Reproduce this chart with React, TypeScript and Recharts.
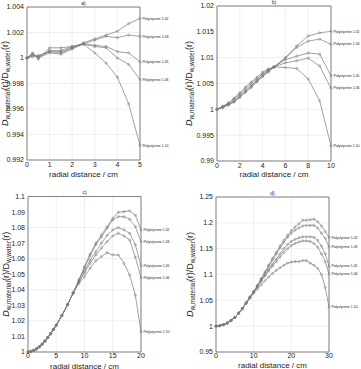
import { LineChart, Line, XAxis, YAxis, CartesianGrid, ReferenceArea } from 'recharts'

const NAMES = ['Polystyrene 1.02', 'Polystyrene 1.03', 'Polystyrene 1.05', 'Polystyrene 1.06', 'Polystyrene 1.10']

// a) 0-5 cm
const xsA = [0, 0.25, 0.5, 1, 1.5, 2, 2.5, 3, 3.5, 4, 4.5, 5]
const a102 = [1.0, 1.0003, 1.0001, 1.0005, 1.0004, 1.0008, 1.0012, 1.0015, 1.0018, 1.0021, 1.0027, 1.0031]
const a103 = [1.0, 1.0004, 0.9999, 1.0008, 1.0008, 1.0009, 1.0011, 1.0014, 1.0017, 1.0016, 1.0018, 1.0017]
const a105 = [1.0, 1.0002, 1.0001, 1.0006, 1.0005, 1.0008, 1.0011, 1.001, 1.0009, 1.0005, 1.0004, 0.9997]
const a106 = [1.0, 1.0003, 1.0, 1.0004, 1.0003, 1.0007, 1.0011, 1.0009, 1.0008, 1.0, 0.9995, 0.9983]
const a110 = [1.0, 1.0001, 1.0002, 1.0005, 1.0006, 1.0009, 1.0011, 1.0004, 0.9996, 0.9985, 0.9964, 0.99315]

// b) 0-10 cm
const xsB = [0, 0.5, 1, 1.5, 2, 2.5, 3, 3.5, 4, 4.5, 5, 6, 7, 8, 9, 10]
const b102 = [1.0, 1.0004, 1.0009, 1.0015, 1.0025, 1.0034, 1.0044, 1.0055, 1.0065, 1.0074, 1.0082, 1.01, 1.0123, 1.0142, 1.0148, 1.0151]
const b103 = [1.0, 1.0005, 1.001, 1.0017, 1.0027, 1.0036, 1.0046, 1.0056, 1.0066, 1.0075, 1.0082, 1.0099, 1.012, 1.0132, 1.0136, 1.0126]
const b105 = [1.0, 1.0006, 1.0012, 1.002, 1.003, 1.004, 1.005, 1.0059, 1.0069, 1.0077, 1.0082, 1.0096, 1.0103, 1.0109, 1.0107, 1.0065]
const b106 = [1.0, 1.0003, 1.0008, 1.0014, 1.0023, 1.0033, 1.0042, 1.0053, 1.0063, 1.0072, 1.0082, 1.009, 1.0094, 1.0099, 1.0084, 1.0041]
const b110 = [1.0, 1.0005, 1.0012, 1.0022, 1.0032, 1.0043, 1.0053, 1.0062, 1.0072, 1.0078, 1.0082, 1.0081, 1.0079, 1.0059, 1.0017, 0.9929]

// c) 0-20 cm
const xsC = [0, 0.5, 1, 1.5, 2, 2.5, 3, 3.5, 4, 4.5, 5, 6, 7, 8, 9, 10, 11, 12, 13, 14, 15, 16, 17, 18, 19, 20]
const c102 = [1.0, 1.0004, 1.001, 1.002, 1.0033, 1.005, 1.007, 1.0093, 1.0118, 1.0145, 1.0172, 1.0235, 1.0305, 1.038, 1.0465, 1.055, 1.063, 1.07, 1.0753, 1.0806, 1.086, 1.0899, 1.0903, 1.0908, 1.088, 1.0785]
const c103 = [1.0, 1.0004, 1.001, 1.002, 1.0033, 1.005, 1.007, 1.0093, 1.0118, 1.0145, 1.0172, 1.0235, 1.0305, 1.038, 1.046, 1.054, 1.062, 1.069, 1.074, 1.0796, 1.085, 1.087, 1.087, 1.0854, 1.0806, 1.071]
const c105 = [1.0, 1.0004, 1.001, 1.002, 1.0033, 1.005, 1.007, 1.0093, 1.0118, 1.0145, 1.0172, 1.0235, 1.0305, 1.038, 1.045, 1.052, 1.059, 1.0645, 1.07, 1.075, 1.0785, 1.08, 1.0785, 1.0763, 1.069, 1.0553]
const c106 = [1.0, 1.0004, 1.001, 1.002, 1.0033, 1.005, 1.007, 1.0093, 1.0118, 1.0145, 1.0172, 1.0235, 1.0305, 1.038, 1.045, 1.051, 1.057, 1.0624, 1.0667, 1.071, 1.0746, 1.0763, 1.0746, 1.072, 1.061, 1.0477]
const c110 = [1.0, 1.0004, 1.001, 1.002, 1.0033, 1.005, 1.007, 1.0093, 1.0118, 1.0145, 1.0172, 1.0235, 1.0305, 1.038, 1.044, 1.0484, 1.0538, 1.0587, 1.0613, 1.0639, 1.0624, 1.0624, 1.057, 1.0495, 1.0366, 1.0129]

// d) 0-30 cm
const xsD = [0, 1, 2, 3, 4, 5, 6, 7, 8, 9, 10, 11, 12, 13, 14, 15, 16, 17, 18, 19, 20, 21, 22, 23, 24, 25, 26, 27, 28, 29, 30]
const d102 = [1.0, 1.001, 1.003, 1.006, 1.011, 1.017, 1.025, 1.034, 1.045, 1.056, 1.067, 1.079, 1.092, 1.105, 1.118, 1.131, 1.143, 1.155, 1.166, 1.176, 1.185, 1.192, 1.198, 1.205, 1.205, 1.206, 1.207, 1.202, 1.194, 1.183, 1.172]
const d103 = [1.0, 1.001, 1.003, 1.006, 1.011, 1.017, 1.025, 1.034, 1.045, 1.056, 1.067, 1.078, 1.091, 1.103, 1.116, 1.128, 1.14, 1.151, 1.162, 1.172, 1.18, 1.186, 1.19, 1.194, 1.195, 1.195, 1.195, 1.19, 1.18, 1.17, 1.153]
const d105 = [1.0, 1.001, 1.003, 1.006, 1.011, 1.017, 1.025, 1.034, 1.045, 1.056, 1.066, 1.077, 1.088, 1.099, 1.11, 1.12, 1.13, 1.14, 1.15, 1.158, 1.164, 1.168, 1.171, 1.173, 1.173, 1.173, 1.172, 1.166, 1.155, 1.14, 1.116]
const d106 = [1.0, 1.001, 1.003, 1.006, 1.011, 1.017, 1.025, 1.034, 1.045, 1.056, 1.066, 1.076, 1.087, 1.097, 1.107, 1.116, 1.125, 1.134, 1.143, 1.15, 1.156, 1.16, 1.163, 1.165, 1.165, 1.164, 1.16, 1.153, 1.14, 1.125, 1.101]
const d110 = [1.0, 1.001, 1.003, 1.006, 1.011, 1.017, 1.025, 1.034, 1.044, 1.054, 1.064, 1.072, 1.08, 1.088, 1.095, 1.102, 1.108, 1.113, 1.118, 1.122, 1.124, 1.125, 1.125, 1.127, 1.127, 1.122, 1.118, 1.112, 1.1, 1.075, 1.037]

const FONT = '"Liberation Sans", Arial, sans-serif'
const LINE = '#7a7a7a'
const GRID = '#e4e4e4'
const BOX = '#666'
const TEXT = '#222'

const fmt = (v: number) => String(Number(v.toFixed(4)))

function YLabel(props: any) {
  const vb = props.viewBox
  const x = props.labelX
  const y = vb.y + vb.height / 2
  return (
    <text x={x} y={y} transform={`rotate(-90 ${x} ${y})`} textAnchor="middle" dy={3} fill={TEXT} fontFamily={FONT}>
      <tspan fontSize={9} fontStyle="italic">D</tspan>
      <tspan fontSize={6.5} dy={2}>w,material</tspan>
      <tspan fontSize={9} dy={-2}>(r)/D</tspan>
      <tspan fontSize={6.5} dy={2}>w,water</tspan>
      <tspan fontSize={9} dy={-2}>(r)</tspan>
    </text>
  )
}

interface PanelProps {
  left: number
  top: number
  width: number
  height: number
  margin: { top: number; right: number; left: number; bottom: number }
  yWidth: number
  xHeight: number
  xs: number[]
  series: number[][]
  xDomain: [number, number]
  xTicks: number[]
  yDomain: [number, number]
  yTicks: number[]
  title: string
  titleOffset: number
  labelX: number
  xLabelOffset: number
  xTickMargin: number
}

function Panel(p: PanelProps) {
  const data = p.xs.map((x, i) => {
    const row: Record<string, number> = { x }
    p.series.forEach((s, k) => {
      row[`s${k}`] = s[i]
    })
    return row
  })
  const last = p.xs.length - 1

  return (
    <div style={{ position: 'absolute', left: p.left, top: p.top }}>
      <LineChart width={p.width} height={p.height} data={data} margin={p.margin}>
        <CartesianGrid stroke={GRID} strokeWidth={0.6} />
        <XAxis
          dataKey="x"
          type="number"
          domain={p.xDomain}
          ticks={p.xTicks}
          tickFormatter={fmt}
          axisLine={false}
          tickLine={false}
          tickSize={0}
          tickMargin={p.xTickMargin}
          height={p.xHeight}
          tick={{ fontSize: 7, fill: TEXT, fontFamily: FONT }}
          label={{ value: 'radial distance / cm', position: 'insideBottom', offset: p.xLabelOffset, fontSize: 8, fill: TEXT, fontFamily: FONT }}
        />
        <YAxis
          type="number"
          domain={p.yDomain}
          ticks={p.yTicks}
          tickFormatter={fmt}
          axisLine={false}
          tickLine={false}
          tickSize={0}
          tickMargin={3}
          width={p.yWidth}
          tick={{ fontSize: 7, fill: TEXT, fontFamily: FONT }}
          label={{ content: (lp: any) => <YLabel {...lp} labelX={p.labelX} /> }}
        />
        <ReferenceArea
          x1={p.xDomain[0]}
          x2={p.xDomain[1]}
          y1={p.yDomain[0]}
          y2={p.yDomain[1]}
          fill="none"
          stroke={BOX}
          strokeWidth={0.8}
          label={{ value: p.title, position: 'top', offset: p.titleOffset, fontSize: 5, fill: TEXT, fontFamily: FONT }}
        />
        {p.series.map((_, k) => (
          <Line
            key={k}
            dataKey={`s${k}`}
            type="linear"
            stroke={LINE}
            strokeWidth={0.7}
            isAnimationActive={false}
            dot={(dp: any) => (
              <g key={`d${k}-${dp.index}`}>
                <circle cx={dp.cx} cy={dp.cy} r={1.1} fill="none" stroke={LINE} strokeWidth={0.5} />
                {dp.index === last && (
                  <text x={dp.cx + 2.5} y={dp.cy} dy={1.2} fontSize={3.5} fill={TEXT} fontFamily={FONT}>
                    {NAMES[k]}
                  </text>
                )}
              </g>
            )}
          />
        ))}
      </LineChart>
    </div>
  )
}

export default function App() {
  return (
    <div style={{ position: 'absolute', left: 0, top: 0, width: 361, height: 369, background: '#fff', fontFamily: FONT }}>
      <Panel
        left={0}
        top={0}
        width={180}
        height={180}
        margin={{ top: 7, right: 40, left: 0, bottom: 0 }}
        yWidth={27}
        xHeight={20}
        xs={xsA}
        series={[a102, a103, a105, a106, a110]}
        xDomain={[0, 5]}
        xTicks={[0, 1, 2, 3, 4, 5]}
        yDomain={[0.992, 1.004]}
        yTicks={[0.992, 0.994, 0.996, 0.998, 1, 1.002, 1.004]}
        title="a)"
        titleOffset={2}
        labelX={5}
        xLabelOffset={3}
        xTickMargin={2}
      />
      <Panel
        left={180}
        top={0}
        width={181}
        height={180}
        margin={{ top: 6, right: 30, left: 0, bottom: 0 }}
        yWidth={37}
        xHeight={19}
        xs={xsB}
        series={[b102, b103, b105, b106, b110]}
        xDomain={[0, 10]}
        xTicks={[0, 2, 4, 6, 8, 10]}
        yDomain={[0.99, 1.02]}
        yTicks={[0.99, 0.995, 1, 1.005, 1.01, 1.015, 1.02]}
        title="b)"
        titleOffset={2}
        labelX={9}
        xLabelOffset={3}
        xTickMargin={2}
      />
      <Panel
        left={0}
        top={184}
        width={180}
        height={185}
        margin={{ top: 12.5, right: 39, left: 0, bottom: 0 }}
        yWidth={28}
        xHeight={17}
        xs={xsC}
        series={[c102, c103, c105, c106, c110]}
        xDomain={[0, 20]}
        xTicks={[0, 5, 10, 15, 20]}
        yDomain={[1, 1.1]}
        yTicks={[1, 1.01, 1.02, 1.03, 1.04, 1.05, 1.06, 1.07, 1.08, 1.09, 1.1]}
        title="c)"
        titleOffset={2.5}
        labelX={6}
        xLabelOffset={0.5}
        xTickMargin={1}
      />
      <Panel
        left={180}
        top={184}
        width={181}
        height={185}
        margin={{ top: 13, right: 32, left: 0, bottom: 0 }}
        yWidth={36}
        xHeight={17}
        xs={xsD}
        series={[d102, d103, d105, d106, d110]}
        xDomain={[0, 30]}
        xTicks={[0, 10, 20, 30]}
        yDomain={[0.95, 1.25]}
        yTicks={[0.95, 1, 1.05, 1.1, 1.15, 1.2, 1.25]}
        title="d)"
        titleOffset={2.5}
        labelX={10}
        xLabelOffset={1}
        xTickMargin={1}
      />
    </div>
  )
}
